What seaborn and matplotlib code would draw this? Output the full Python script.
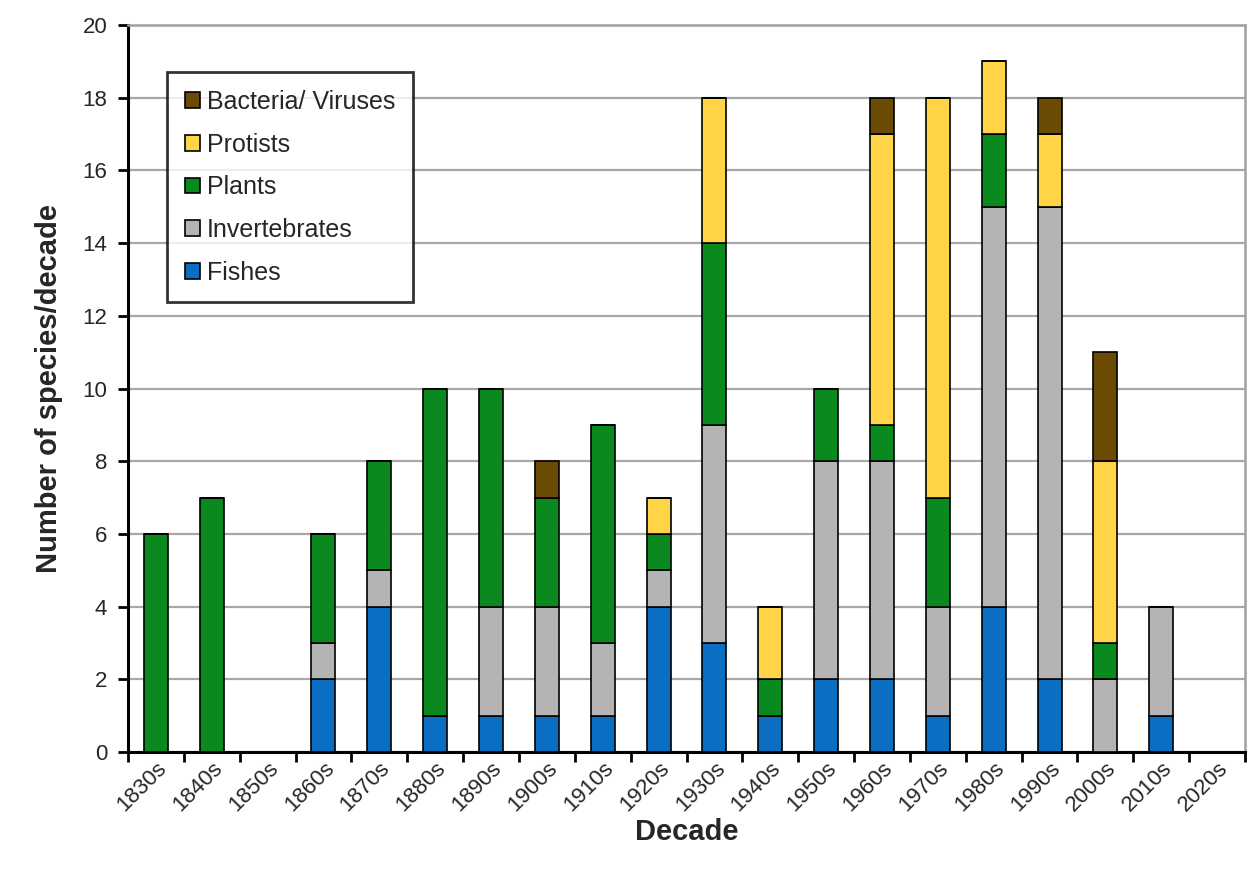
import numpy as np
import pandas as pd
import matplotlib
matplotlib.use("Agg")
import matplotlib.pyplot as plt
import seaborn as sns
from matplotlib.ticker import FixedLocator

decades = ["1830s", "1840s", "1850s", "1860s", "1870s", "1880s", "1890s",
           "1900s", "1910s", "1920s", "1930s", "1940s", "1950s", "1960s",
           "1970s", "1980s", "1990s", "2000s", "2010s", "2020s"]

fishes = [0, 0, 0, 2, 4, 1, 1, 1, 1, 4, 3, 1, 2, 2, 1, 4, 2, 0, 1, 0]
invertebrates = [0, 0, 0, 1, 1, 0, 3, 3, 2, 1, 6, 0, 6, 6, 3, 11, 13, 2, 3, 0]
plants = [6, 7, 0, 3, 3, 9, 6, 3, 6, 1, 5, 1, 2, 1, 3, 2, 0, 1, 0, 0]
protists = [0, 0, 0, 0, 0, 0, 0, 0, 0, 1, 4, 2, 0, 8, 11, 2, 2, 5, 0, 0]
bacteria = [0, 0, 0, 0, 0, 0, 0, 1, 0, 0, 0, 0, 0, 1, 0, 0, 1, 3, 0, 0]

groups = ["Fishes", "Invertebrates", "Plants", "Protists", "Bacteria/ Viruses"]
colors = ["#0A6FC2", "#B4B4B4", "#0A8A1E", "#FFD447", "#6B4A04"]

df = pd.DataFrame({
    "Decade": decades,
    "Fishes": fishes,
    "Invertebrates": invertebrates,
    "Plants": plants,
    "Protists": protists,
    "Bacteria/ Viruses": bacteria,
})

sns.set_style("white")
plt.rcParams["font.family"] = ["Liberation Sans", "DejaVu Sans"]

fig = plt.figure(figsize=(12.6, 8.72), dpi=100)
ax = fig.add_axes([0.1016, 0.1376, 0.8865, 0.8337])

# stack the groups bottom-up
bottom = np.zeros(len(decades))
for grp, col in zip(groups, colors):
    sns.barplot(data=df, x="Decade", y=grp, order=decades, color=col,
                saturation=1, bottom=bottom, width=0.43, edgecolor="black",
                linewidth=1.2, ax=ax, label=grp, zorder=3)
    bottom = bottom + df[grp].to_numpy()

ax.set_xlim(-0.5, len(decades) - 0.5)
ax.set_ylim(0, 20)
ax.set_yticks(range(0, 21, 2))
ax.yaxis.grid(True, color="#A8A8A8", linewidth=1.6, zorder=0)
ax.xaxis.grid(False)

ax.tick_params(axis="x", which="major", length=0, labelsize=16, pad=4)
ax.set_xticks(range(len(decades)))
ax.set_xticklabels(decades, rotation=45, ha="right", va="top",
                   rotation_mode="anchor")
ax.xaxis.set_minor_locator(FixedLocator(np.arange(-0.5, len(decades), 1)))
ax.tick_params(axis="x", which="minor", length=7, width=2, color="black",
               direction="out", bottom=True)
ax.tick_params(axis="y", length=7, width=2, color="black", direction="out",
               left=True, labelsize=16, pad=8)

for side in ["left", "bottom"]:
    ax.spines[side].set_color("black")
    ax.spines[side].set_linewidth(2.2)
for side in ["top", "right"]:
    ax.spines[side].set_color("#A0A0A0")
    ax.spines[side].set_linewidth(1.8)

ax.set_xlabel("Decade", fontsize=21, fontweight="bold", labelpad=2)
ax.set_ylabel("Number of species/decade", fontsize=21, fontweight="bold",
              labelpad=14)

handles, labels = ax.get_legend_handles_labels()
leg = ax.legend(handles[::-1], labels[::-1], loc="upper left",
                bbox_to_anchor=(0.035, 0.935), fontsize=18, frameon=True,
                fancybox=False, edgecolor="black", handlelength=0.6,
                handleheight=0.6, handletextpad=0.3, labelspacing=0.75,
                borderpad=0.7, borderaxespad=0)
leg.get_frame().set_linewidth(2)
leg.set_zorder(5)

fig.savefig("out.png", dpi=100)
